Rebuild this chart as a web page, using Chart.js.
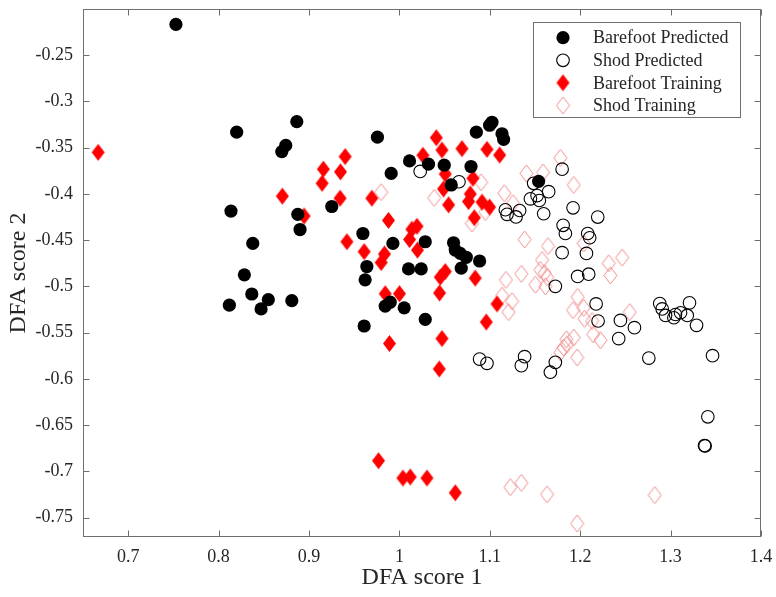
<!DOCTYPE html>
<html>
<head>
<meta charset="utf-8">
<script src="https://cdn.jsdelivr.net/npm/chart.js@4.4.1/dist/chart.umd.min.js"></script>
<style>
  html, body { margin: 0; padding: 0; background: #fff; }
  canvas { display: block; }
</style>
</head>
<body>
<canvas id="chart" width="776" height="597"></canvas>
<script>
// series labels
const seriesNames = ['Barefoot Predicted', 'Shod Predicted', 'Barefoot Training', 'Shod Training'];

// axis ticks
const xTickValues = [0.7, 0.8, 0.9, 1.0, 1.1, 1.2, 1.3, 1.4];
const xTickLabels = ['0.7', '0.8', '0.9', '1', '1.1', '1.2', '1.3', '1.4'];
const yTickValues = [-0.75, -0.7, -0.65, -0.6, -0.55, -0.5, -0.45, -0.4, -0.35, -0.3, -0.25];
const yTickLabels = ['-0.75', '-0.7', '-0.65', '-0.6', '-0.55', '-0.5', '-0.45', '-0.4', '-0.35', '-0.3', '-0.25'];

// Barefoot Predicted (filled black circles)
const barefootPredX = [0.7528, 0.8200, 0.8865, 0.8743, 0.8699, 0.8137, 0.8876, 0.8901, 0.9252, 0.8378,
  0.8285, 0.8367, 0.8119, 0.8550, 0.8470, 0.8810, 0.9757, 1.1024, 1.0998, 1.0851,
  1.1135, 1.1153, 1.0112, 1.0322, 1.0496, 1.0792, 0.9909, 1.0574, 1.1540, 0.9596,
  0.9928, 1.0286, 1.0599, 1.0618, 1.0673, 1.0740, 1.0887, 1.0684, 0.9640, 1.0101,
  1.0241, 0.9621, 0.9898, 0.9843, 1.0053, 1.0286, 0.9610];
const barefootPredY = [-0.2167, -0.3332, -0.3218, -0.3475, -0.3542, -0.4185, -0.4221, -0.4385, -0.4136, -0.4535,
  -0.4875, -0.5082, -0.5203, -0.5143, -0.5243, -0.5154, -0.3386, -0.3225, -0.3257, -0.3332,
  -0.3349, -0.3410, -0.3643, -0.3678, -0.3689, -0.3703, -0.3778, -0.3903, -0.3864, -0.4428,
  -0.4535, -0.4517, -0.4528, -0.4607, -0.4643, -0.4685, -0.4725, -0.4803, -0.4785, -0.4811,
  -0.4811, -0.4929, -0.5171, -0.5214, -0.5232, -0.5357, -0.5428];

// Shod Predicted (open black circles)
const shodPredX = [1.0230, 1.0659, 1.1485, 1.1651, 1.1449, 1.1523, 1.1548, 1.1172, 1.1191, 1.1290,
  1.1330, 1.1596, 1.1800, 1.1921, 1.2194, 1.1811, 1.1836, 1.2083, 1.2105, 1.1800,
  1.2069, 1.1972, 1.2094, 1.1725, 1.0887, 1.0969, 1.1385, 1.1349, 1.1725, 1.1670,
  1.2176, 1.2198, 1.2445, 1.2600, 1.2426, 1.2759, 1.2880, 1.2907, 1.2944, 1.3036,
  1.3054, 1.3110, 1.3184, 1.3209, 1.3287, 1.3464, 1.3412, 1.3375, 1.3382];
const shodPredY = [-0.3756, -0.3868, -0.3885, -0.3975, -0.4053, -0.4018, -0.4071, -0.4171, -0.4221, -0.4249,
  -0.4179, -0.4214, -0.3732, -0.4150, -0.4250, -0.4339, -0.4428, -0.4428, -0.4474, -0.4635,
  -0.4643, -0.4892, -0.4868, -0.4999, -0.5786, -0.5832, -0.5760, -0.5857, -0.5821, -0.5928,
  -0.5189, -0.5374, -0.5368, -0.5446, -0.5564, -0.5775, -0.5186, -0.5243, -0.5314, -0.5339,
  -0.5304, -0.5285, -0.5314, -0.5178, -0.5421, -0.5749, -0.6410, -0.6721, -0.6725];

// Barefoot Training (filled red diamonds)
const barefootTrainX = [0.6668, 0.9400, 0.9159, 0.9348, 0.9145, 0.8705, 0.9344, 0.8946, 0.9419, 1.0408,
  1.0471, 1.0692, 1.0969, 1.1109, 1.0260, 1.0507, 1.0814, 1.0488, 1.0784, 0.9695,
  1.0544, 1.0765, 1.0914, 1.0998, 1.0828, 0.9879, 1.0138, 1.0194, 1.0112, 1.0200,
  0.9610, 0.9835, 0.9798, 1.0507, 1.0452, 1.0839, 0.9843, 1.0001, 1.0444, 1.1080,
  1.0961, 0.9890, 1.0471, 1.0441, 0.9769, 1.0039, 1.0120, 1.0305, 1.0618];
const barefootTrainY = [-0.3550, -0.3596, -0.3732, -0.3761, -0.3885, -0.4024, -0.4046, -0.4239, -0.4517, -0.3392,
  -0.3525, -0.3510, -0.3518, -0.3579, -0.3582, -0.3785, -0.3831, -0.3946, -0.4000, -0.4046,
  -0.4118, -0.4082, -0.4089, -0.4142, -0.4257, -0.4286, -0.4382, -0.4350, -0.4493, -0.4607,
  -0.4624, -0.4650, -0.4742, -0.4839, -0.4900, -0.4910, -0.5079, -0.5079, -0.5071, -0.5189,
  -0.5385, -0.5618, -0.5564, -0.5893, -0.6885, -0.7072, -0.7061, -0.7072, -0.7232];

// Shod Training (open pink diamonds)
const shodTrainX = [0.9798, 1.0385, 1.0903, 1.1161, 1.1404, 1.1589, 1.1781, 1.0950, 1.0803, 1.1257,
  1.1385, 1.1644, 1.1578, 1.1559, 1.1607, 1.1633, 1.1349, 1.1179, 1.1504, 1.1615,
  1.1928, 1.2039, 1.2316, 1.2464, 1.2334, 1.1135, 1.1246, 1.1208, 1.1972, 1.1921,
  1.2039, 1.2047, 1.2132, 1.2548, 1.2143, 1.2224, 1.1928, 1.1847, 1.1817, 1.1855,
  1.1966, 1.1781, 1.1227, 1.1349, 1.1633, 1.1966, 1.2825];
const shodTrainY = [-0.3981, -0.4043, -0.3874, -0.3992, -0.3778, -0.3767, -0.3611, -0.4196, -0.4321, -0.4099,
  -0.4493, -0.4564, -0.4714, -0.4822, -0.4857, -0.4900, -0.4864, -0.4929, -0.4982, -0.4999,
  -0.3903, -0.4535, -0.4750, -0.4689, -0.4881, -0.5100, -0.5160, -0.5278, -0.5114, -0.5257,
  -0.5232, -0.5350, -0.5374, -0.5278, -0.5518, -0.5582, -0.5553, -0.5572, -0.5660, -0.5625,
  -0.5768, -0.5714, -0.7171, -0.7125, -0.7249, -0.7564, -0.7257];

const pts = (xs, ys) => xs.map((x, i) => ({ x: x, y: ys[i] }));

const FONT = '"Liberation Serif", "Times New Roman", serif';
const AXIS_GRAY = '#6f6f6f';
const TEXT_COLOR = '#262626';
const PINK = 'rgb(240,140,140)';

// MATLAB-like diamond markers (a bit taller than wide)
function diamond(fill, stroke) {
  const c = document.createElement('canvas');
  c.width = 15; c.height = 19;
  const g = c.getContext('2d');
  g.beginPath();
  g.moveTo(7.5, 1); g.lineTo(14, 9.5); g.lineTo(7.5, 18); g.lineTo(1, 9.5);
  g.closePath();
  if (fill) { g.fillStyle = fill; g.fill(); }
  if (stroke) { g.strokeStyle = stroke; g.lineWidth = 1; g.stroke(); }
  return c;
}
const redDiamond = diamond('#ff0000', null);
const pinkDiamond = diamond(null, PINK);

// no automatic label padding, the plot box is fixed
function noPad(s) {
  s.paddingTop = 0; s.paddingBottom = 0; s.paddingLeft = 0; s.paddingRight = 0;
}

// box, inward ticks and legend drawn on top
const framePlugin = {
  id: 'frame',
  afterDraw(chart) {
    const ctx = chart.ctx;
    const a = chart.chartArea;
    const xs = chart.scales.x, ys = chart.scales.y;
    const L = Math.round(a.left) + 0.5, R = Math.round(a.right) - 0.5;
    const T = Math.round(a.top) + 0.5, B = Math.round(a.bottom) - 0.5;
    const tl = 6;
    ctx.save();
    ctx.strokeStyle = AXIS_GRAY;
    ctx.lineWidth = 1;
    ctx.strokeRect(L, T, R - L, B - T);
    ctx.beginPath();
    xTickValues.forEach(v => {
      const px = Math.round(xs.getPixelForValue(v)) + 0.5;
      ctx.moveTo(px, B); ctx.lineTo(px, B - tl);
      ctx.moveTo(px, T); ctx.lineTo(px, T + tl);
    });
    yTickValues.forEach(v => {
      const py = Math.round(ys.getPixelForValue(v)) + 0.5;
      ctx.moveTo(L, py); ctx.lineTo(L + tl, py);
      ctx.moveTo(R, py); ctx.lineTo(R - tl, py);
    });
    ctx.stroke();

    // legend
    const bx = 533.5, by = 22.5, bw = 207, bh = 95;
    ctx.fillStyle = '#fff';
    ctx.fillRect(bx, by, bw, bh);
    ctx.strokeStyle = AXIS_GRAY;
    ctx.strokeRect(bx, by, bw, bh);
    const rows = [37.7, 60.3, 82.8, 105.5];
    ctx.font = '18px ' + FONT;
    ctx.textBaseline = 'middle';
    ctx.textAlign = 'left';
    chart.data.datasets.forEach((ds, i) => {
      const y = rows[i];
      ctx.save();
      ctx.fillStyle = ds.backgroundColor;
      ctx.strokeStyle = ds.borderColor;
      ctx.lineWidth = ds.borderWidth;
      Chart.helpers.drawPoint(ctx, { pointStyle: ds.pointStyle, radius: ds.pointRadius, rotation: 0, borderWidth: ds.borderWidth }, 563, y);
      ctx.restore();
      ctx.fillStyle = TEXT_COLOR;
      ctx.fillText(ds.label, 593, y + 1);
    });
    ctx.restore();
  }
};

new Chart(document.getElementById('chart'), {
  type: 'scatter',
  data: {
    datasets: [
      {
        label: seriesNames[0],
        data: pts(barefootPredX, barefootPredY),
        pointStyle: 'circle',
        pointRadius: 6.6,
        backgroundColor: '#000000',
        borderColor: '#000000',
        borderWidth: 0
      },
      {
        label: seriesNames[1],
        data: pts(shodPredX, shodPredY),
        pointStyle: 'circle',
        pointRadius: 6.3,
        backgroundColor: 'rgba(0,0,0,0)',
        borderColor: '#000000',
        borderWidth: 1.1
      },
      {
        label: seriesNames[2],
        data: pts(barefootTrainX, barefootTrainY),
        pointStyle: redDiamond,
        pointRadius: 8,
        backgroundColor: '#ff0000',
        borderColor: '#ff0000',
        borderWidth: 0
      },
      {
        label: seriesNames[3],
        data: pts(shodTrainX, shodTrainY),
        pointStyle: pinkDiamond,
        pointRadius: 8,
        backgroundColor: 'rgba(0,0,0,0)',
        borderColor: PINK,
        borderWidth: 1
      }
    ]
  },
  options: {
    responsive: false,
    animation: false,
    devicePixelRatio: 1,
    layout: { padding: { top: 3, right: 15, left: 0, bottom: 0 } },
    plugins: {
      legend: { display: false },
      tooltip: { enabled: false }
    },
    scales: {
      x: {
        type: 'linear',
        min: 0.65,
        max: 1.4,
        afterBuildTicks: s => { s.ticks = xTickValues.map(v => ({ value: v })); },
        afterFit: s => { s.height = 60; noPad(s); },
        grid: { display: false, drawTicks: false },
        border: { display: false },
        ticks: {
          padding: 9,
          color: TEXT_COLOR,
          font: { family: FONT, size: 18 },
          maxRotation: 0,
          callback: (v, i) => xTickLabels[i]
        },
        title: {
          display: true,
          text: 'DFA score 1',
          color: TEXT_COLOR,
          font: { family: FONT, size: 24 },
          padding: { top: 0, bottom: 5 }
        }
      },
      y: {
        type: 'linear',
        min: -0.771,
        max: -0.2,
        afterBuildTicks: s => { s.ticks = yTickValues.map(v => ({ value: v })); },
        afterFit: s => { s.width = 83; noPad(s); },
        grid: { display: false, drawTicks: false },
        border: { display: false },
        ticks: {
          padding: 10,
          color: TEXT_COLOR,
          font: { family: FONT, size: 18 },
          callback: (v, i) => yTickLabels[i]
        },
        title: {
          display: true,
          text: 'DFA score 2',
          color: TEXT_COLOR,
          font: { family: FONT, size: 24 },
          padding: { top: 4, bottom: 0 }
        }
      }
    }
  },
  plugins: [framePlugin]
});
</script>
</body>
</html>
